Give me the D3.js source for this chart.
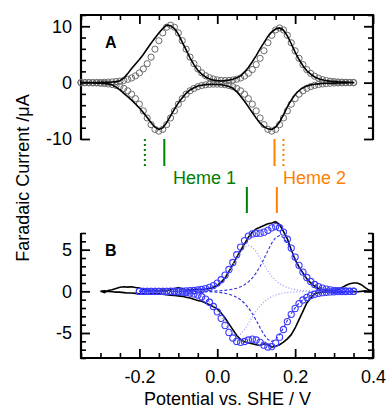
<!DOCTYPE html>
<html><head><meta charset="utf-8">
<script src="https://cdn.jsdelivr.net/npm/d3@7"></script>
<style>
body{margin:0;background:#fff}
svg{display:block}
text{font-family:"Liberation Sans",Arial,Helvetica,sans-serif}
</style></head>
<body><svg id="c" width="386" height="412"></svg>
<script>
// ---------- DATA ----------
const potA = [-0.35,-0.34,-0.33,-0.32,-0.31,-0.30,-0.29,-0.28,-0.27,-0.26,-0.25,-0.24,-0.23,-0.22,-0.21,-0.20,-0.19,-0.18,-0.17,-0.16,-0.15,-0.14,-0.13,-0.12,-0.11,-0.10,-0.09,-0.08,-0.07,-0.06,-0.05,-0.04,-0.03,-0.02,-0.01,0.00,0.01,0.02,0.03,0.04,0.05,0.06,0.07,0.08,0.09,0.10,0.11,0.12,0.13,0.14,0.15,0.16,0.17,0.18,0.19,0.20,0.21,0.22,0.23,0.24,0.25,0.26,0.27,0.28,0.29,0.30,0.31,0.32,0.33,0.34,0.35];
const simA_ox = [0.01,0.01,0.02,0.02,0.03,0.04,0.06,0.09,0.13,0.19,0.27,0.40,0.58,0.83,1.20,1.72,2.43,3.37,4.53,5.94,7.44,8.83,9.83,10.2,9.83,8.83,7.44,5.94,4.53,3.37,2.43,1.74,1.23,0.87,0.64,0.48,0.39,0.37,0.39,0.47,0.61,0.83,1.17,1.66,2.32,3.21,4.32,5.66,7.08,8.40,9.35,9.70,9.35,8.40,7.07,5.65,4.31,3.20,2.31,1.64,1.14,0.79,0.55,0.38,0.26,0.18,0.12,0.08,0.06,0.04,0.03];
const simA_red = [-0.02,-0.02,-0.03,-0.05,-0.07,-0.11,-0.16,-0.23,-0.33,-0.49,-0.70,-1.01,-1.45,-2.05,-2.84,-3.82,-5.01,-6.27,-7.45,-8.29,-8.6,-8.29,-7.45,-6.27,-5.01,-3.82,-2.84,-2.05,-1.45,-1.03,-0.72,-0.52,-0.38,-0.30,-0.27,-0.27,-0.30,-0.38,-0.52,-0.72,-1.03,-1.45,-2.05,-2.84,-3.82,-5.01,-6.27,-7.45,-8.29,-8.6,-8.29,-7.45,-6.27,-5.01,-3.82,-2.84,-2.05,-1.45,-1.01,-0.70,-0.49,-0.33,-0.23,-0.16,-0.11,-0.07,-0.05,-0.03,-0.02,-0.02,-0.01];
const expA_ox = [0.0,0.02,0.0,0.03,0.02,0.04,0.05,0.08,0.1,0.18,0.35,0.8,1.6,2.5,3.3,4.1,5.0,6.0,7.0,7.9,8.8,9.6,10.2,10.1,9.6,8.6,7.2,5.8,4.4,3.2,2.2,1.5,1.0,0.65,0.45,0.35,0.3,0.35,0.45,0.6,0.85,1.2,1.9,2.7,3.7,4.8,6.0,7.1,8.2,9.0,9.5,9.7,9.3,8.3,6.9,5.4,4.1,3.0,2.1,1.5,1.0,0.7,0.5,0.35,0.25,0.2,0.15,0.12,0.1,0.06,0.03];
const expA_red = [-0.03,-0.05,-0.04,-0.06,-0.08,-0.1,-0.15,-0.22,-0.4,-0.8,-1.3,-1.9,-2.5,-3.1,-3.8,-4.5,-5.3,-6.2,-7.1,-7.9,-8.3,-8.0,-7.1,-5.9,-4.7,-3.6,-2.7,-1.9,-1.3,-0.9,-0.6,-0.45,-0.35,-0.3,-0.3,-0.32,-0.38,-0.5,-0.7,-1.0,-1.6,-2.4,-3.3,-4.3,-5.3,-6.3,-7.2,-7.8,-8.2,-8.3,-7.9,-7.0,-5.7,-4.3,-3.1,-2.1,-1.4,-0.9,-0.6,-0.4,-0.3,-0.22,-0.16,-0.12,-0.1,-0.08,-0.06,-0.05,-0.04,-0.03,-0.02];

const potB = [-0.20,-0.19,-0.18,-0.17,-0.16,-0.15,-0.14,-0.13,-0.12,-0.11,-0.10,-0.09,-0.08,-0.07,-0.06,-0.05,-0.04,-0.03,-0.02,-0.01,0.00,0.01,0.02,0.03,0.04,0.05,0.06,0.07,0.08,0.09,0.10,0.11,0.12,0.13,0.14,0.15,0.16,0.17,0.18,0.19,0.20,0.21,0.22,0.23,0.24,0.25,0.26,0.27,0.28,0.29,0.30,0.31,0.32,0.33,0.34,0.35];
const simB_ox = [0,0,0,0,0,0,0,0,0.01,0.01,0.02,0.03,0.05,0.07,0.10,0.16,0.22,0.33,0.48,0.69,0.99,1.39,1.94,2.62,3.46,4.39,5.31,6.09,6.63,6.89,6.97,6.98,7.10,7.32,7.62,7.77,7.63,7.11,6.25,5.19,4.11,3.12,2.31,1.66,1.18,0.82,0.57,0.39,0.27,0.18,0.12,0.08,0.06,0.04,0.03,0.02];
const simB_red = [0,0,0,0,0,-0.01,-0.01,-0.02,-0.03,-0.05,-0.07,-0.10,-0.14,-0.21,-0.31,-0.45,-0.65,-0.93,-1.31,-1.82,-2.46,-3.24,-4.09,-4.93,-5.60,-6.01,-6.12,-6.02,-5.84,-5.74,-5.84,-6.12,-6.46,-6.68,-6.63,-6.21,-5.50,-4.58,-3.63,-2.76,-2.05,-1.48,-1.04,-0.73,-0.50,-0.35,-0.23,-0.16,-0.11,-0.07,-0.05,-0.03,-0.02,-0.02,-0.01,-0.01];
const heme1B_ox = [0,0,0,0,0,0,0,0,0.01,0.01,0.02,0.03,0.05,0.07,0.10,0.15,0.21,0.31,0.45,0.65,0.93,1.31,1.82,2.44,3.20,4.01,4.76,5.30,5.50,5.30,4.76,4.01,3.20,2.44,1.82,1.31,0.93,0.65,0.45,0.31,0.21,0.15,0.10,0.07,0.05,0.03,0.02,0.01,0.01,0,0,0,0,0,0,0];
const heme2B_ox = [0,0,0,0,0,0,0,0,0,0,0,0,0,0,0,0.01,0.01,0.02,0.03,0.04,0.06,0.08,0.12,0.18,0.26,0.38,0.55,0.79,1.13,1.59,2.21,2.97,3.90,4.88,5.80,6.46,6.70,6.46,5.80,4.88,3.90,2.97,2.21,1.59,1.13,0.79,0.55,0.38,0.26,0.18,0.12,0.08,0.06,0.04,0.03,0.02];
const heme1B_red = [0,0,0,0,0,-0.01,-0.01,-0.02,-0.03,-0.05,-0.07,-0.10,-0.14,-0.21,-0.30,-0.43,-0.63,-0.90,-1.26,-1.75,-2.35,-3.08,-3.86,-4.59,-5.11,-5.30,-5.11,-4.59,-3.86,-3.08,-2.35,-1.75,-1.26,-0.90,-0.63,-0.43,-0.30,-0.21,-0.14,-0.10,-0.07,-0.05,-0.03,-0.02,-0.01,-0.01,0,0,0,0,0,0,0,0,0,0];
const heme2B_red = [0,0,0,0,0,0,0,0,0,0,0,0,0,0,-0.01,-0.02,-0.02,-0.03,-0.05,-0.07,-0.11,-0.16,-0.23,-0.34,-0.49,-0.71,-1.01,-1.43,-1.98,-2.66,-3.49,-4.37,-5.20,-5.78,-6.00,-5.78,-5.20,-4.37,-3.49,-2.66,-1.98,-1.43,-1.01,-0.71,-0.49,-0.34,-0.23,-0.16,-0.11,-0.07,-0.05,-0.03,-0.02,-0.02,-0.01,-0.01];

const potBexp = [-0.30,-0.29,-0.28,-0.27,-0.26,-0.25,-0.24,-0.23,-0.22,-0.21,-0.20,-0.19,-0.18,-0.17,-0.16,-0.15,-0.14,-0.13,-0.12,-0.11,-0.10,-0.09,-0.08,-0.07,-0.06,-0.05,-0.04,-0.03,-0.02,-0.01,0.00,0.01,0.02,0.03,0.04,0.05,0.06,0.07,0.08,0.09,0.10,0.11,0.12,0.13,0.14,0.15,0.16,0.17,0.18,0.19,0.20,0.21,0.22,0.23,0.24,0.25,0.26,0.27,0.28,0.29,0.30,0.31,0.32,0.33,0.34,0.35,0.36,0.37,0.38,0.39,0.40];
const expB_ox = [0.05,-0.15,0.1,0.2,0.35,0.5,0.55,0.5,0.55,0.45,0.4,0.25,0.15,0.1,0.12,0.05,0.15,0.1,0.2,0.3,0.45,0.3,0.2,0.15,0.2,0.25,0.2,0.3,0.35,0.5,0.7,1.1,1.6,2.4,3.2,4.1,4.9,5.7,6.5,7.1,7.5,7.7,7.9,8.1,8.2,8.35,8.0,7.2,6.3,5.0,3.8,2.9,2.2,1.5,1.0,0.6,0.35,0.2,0.1,0.05,0.1,0.25,0.45,0.7,0.9,1.0,1.0,0.8,0.45,0.15,0.0];
const expB_red = [0.0,0.05,0.0,-0.05,-0.1,-0.1,-0.15,-0.2,-0.2,-0.25,-0.3,-0.3,-0.35,-0.3,-0.3,-0.3,-0.35,-0.4,-0.45,-0.5,-0.55,-0.6,-0.7,-0.8,-0.95,-1.1,-1.2,-1.4,-1.6,-1.85,-2.1,-2.6,-3.2,-3.9,-4.6,-5.3,-5.8,-6.05,-6.2,-6.3,-6.4,-6.5,-6.3,-6.4,-6.7,-6.6,-6.4,-6.1,-5.7,-5.2,-4.4,-3.4,-2.4,-1.4,-0.8,-0.3,-0.1,-0.05,-0.1,-0.05,-0.1,-0.05,-0.1,-0.05,-0.05,0.0,-0.05,0.0,0.05,0.0,0.0];

const hemeNames = ["Heme 1", "Heme 2"];
const hemeA_solid = [-0.136, 0.147];
const hemeA_dotted = [-0.186, 0.170];
const hemeB_solid = [0.076, 0.153];

const xMajor = [-0.2, 0.0, 0.2, 0.4];
const xMajorLabels = ["-0.2", "0.0", "0.2", "0.4"];
const xMinor = [-0.35,-0.3,-0.25,-0.15,-0.1,-0.05,0.05,0.1,0.15,0.25,0.3,0.35];
const yA_major = [-10, 0, 10];
const yA_majorLabels = ["-10", "0", "10"];
const yA_minor = [-8,-6,-4,-2,2,4,6,8,12];
const yB_major = [-5, 0, 5];
const yB_majorLabels = ["-5", "0", "5"];
const yB_minor = [-8,-7,-6,-4,-3,-2,-1,1,2,3,4,6,7];

// ---------- SCALES ----------
const L = 81, R = 373;
const x = d3.scaleLinear().domain([-0.35, 0.4]).range([L, R]);
const yA = d3.scaleLinear().domain([-10, 12]).range([139, 15]);
const yB = d3.scaleLinear().domain([-8, 7]).range([358, 233]);

const svg = d3.select("#c");
const COLG = "#008000", COLO = "#ff8000";

function styleAxis(g, sw) {
  g.select(".domain").remove();
  g.selectAll(".tick line").attr("stroke", "#000").attr("stroke-width", sw);
  g.selectAll(".tick text").attr("fill", "#000").style("font-size", "18px")
    .style("font-family", '"Liberation Sans",Arial,sans-serif');
}
function yAxes(y, major, labels, minor, top, bottom) {
  const fmt = d => labels[major.indexOf(d)];
  svg.append("g").attr("transform", `translate(${L},0)`)
    .call(d3.axisLeft(y).tickValues(minor).tickSize(-5).tickFormat(""))
    .call(g => styleAxis(g, 1.6));
  svg.append("g").attr("transform", `translate(${L},0)`)
    .call(d3.axisLeft(y).tickValues(major).tickSize(-9).tickPadding(9).tickFormat(fmt))
    .call(g => styleAxis(g, 1.8));
  svg.append("g").attr("transform", `translate(${R},0)`)
    .call(d3.axisRight(y).tickValues(minor).tickSize(-5).tickFormat(""))
    .call(g => styleAxis(g, 1.6));
  svg.append("g").attr("transform", `translate(${R},0)`)
    .call(d3.axisRight(y).tickValues(major).tickSize(-9).tickFormat(""))
    .call(g => styleAxis(g, 1.8));
  svg.append("line").attr("x1", L).attr("x2", L).attr("y1", top).attr("y2", bottom)
    .attr("stroke", "#000").attr("stroke-width", 2.2);
  svg.append("line").attr("x1", R).attr("x2", R).attr("y1", top).attr("y2", bottom)
    .attr("stroke", "#000").attr("stroke-width", 2.2);
}

// ---------- PANEL A ----------
yAxes(yA, yA_major, yA_majorLabels, yA_minor, 14, 140);
svg.append("g").attr("transform", "translate(0,15)")
  .call(d3.axisTop(x).tickValues(xMinor).tickSize(-5).tickFormat(""))
  .call(g => styleAxis(g, 1.6));
svg.append("g").attr("transform", "translate(0,15)")
  .call(d3.axisTop(x).tickValues(xMajor).tickSize(-9).tickFormat(""))
  .call(g => styleAxis(g, 1.8));
svg.append("line").attr("x1", L - 1).attr("x2", R + 1).attr("y1", 15).attr("y2", 15)
  .attr("stroke", "#000").attr("stroke-width", 2.2);

const gA = svg.append("g");
const circA = potA.map((e, i) => [e, simA_ox[i]]).concat(potA.map((e, i) => [e, simA_red[i]]));
gA.selectAll("circle").data(circA).join("circle")
  .attr("cx", d => x(d[0])).attr("cy", d => yA(d[1])).attr("r", 3.1)
  .attr("fill", "none").attr("stroke", "#6a6a6a").attr("stroke-width", 1);
const loopA = potA.map((e, i) => [e, expA_ox[i]])
  .concat(potA.map((e, i) => [e, expA_red[i]]).reverse());
gA.append("path").attr("d", d3.line().x(d => x(d[0])).y(d => yA(d[1]))(loopA))
  .attr("fill", "none").attr("stroke", "#000").attr("stroke-width", 1.6);

svg.append("text").attr("x", 105).attr("y", 47.5).text("A")
  .style("font-size", "16px").style("font-weight", "bold");

// ---------- HEME MARKERS ----------
const hemeCols = [COLG, COLO];
hemeA_solid.forEach((e, i) => svg.append("line").attr("x1", x(e)).attr("x2", x(e))
  .attr("y1", 139).attr("y2", 166).attr("stroke", hemeCols[i]).attr("stroke-width", 2));
hemeA_dotted.forEach((e, i) => svg.append("line").attr("x1", x(e)).attr("x2", x(e))
  .attr("y1", 139).attr("y2", 166).attr("stroke", hemeCols[i]).attr("stroke-width", 2)
  .attr("stroke-dasharray", "2,3"));
hemeB_solid.forEach((e, i) => svg.append("line").attr("x1", x(e)).attr("x2", x(e))
  .attr("y1", 187).attr("y2", 213).attr("stroke", hemeCols[i]).attr("stroke-width", 2));
const hemeLabelX = [173, 283];
hemeNames.forEach((n, i) => svg.append("text").attr("x", hemeLabelX[i]).attr("y", 184)
  .text(n).attr("fill", hemeCols[i]).style("font-size", "18px"));

// ---------- PANEL B ----------
yAxes(yB, yB_major, yB_majorLabels, yB_minor, 233, 359);
svg.append("g").attr("transform", "translate(0,358)")
  .call(d3.axisBottom(x).tickValues(xMinor).tickSize(-5).tickFormat(""))
  .call(g => styleAxis(g, 1.6));
svg.append("g").attr("transform", "translate(0,358)")
  .call(d3.axisBottom(x).tickValues(xMajor).tickSize(-9).tickPadding(12)
    .tickFormat(d => xMajorLabels[xMajor.indexOf(d)]))
  .call(g => styleAxis(g, 1.8));
svg.append("line").attr("x1", L - 1).attr("x2", R + 1).attr("y1", 358).attr("y2", 358)
  .attr("stroke", "#000").attr("stroke-width", 2.2);

const gB = svg.append("g");
const lineB = d3.line().x(d => x(d[0])).y(d => yB(d[1]));
const loopB = potBexp.map((e, i) => [e, expB_ox[i]])
  .concat(potBexp.map((e, i) => [e, expB_red[i]]).reverse());
gB.append("path").attr("d", lineB(loopB)).attr("fill", "none")
  .attr("stroke", "#000").attr("stroke-width", 1.6);
[heme1B_ox, heme1B_red].forEach(s => gB.append("path")
  .attr("d", lineB(potB.map((e, i) => [e, s[i]])))
  .attr("fill", "none").attr("stroke", "#8f8fff").attr("stroke-width", 1.1)
  .attr("stroke-dasharray", "1,2"));
[heme2B_ox, heme2B_red].forEach(s => gB.append("path")
  .attr("d", lineB(potB.map((e, i) => [e, s[i]])))
  .attr("fill", "none").attr("stroke", "#2a2ae0").attr("stroke-width", 1.1)
  .attr("stroke-dasharray", "3,2"));
const circB = potB.map((e, i) => [e, simB_ox[i]]).concat(potB.map((e, i) => [e, simB_red[i]]));
gB.selectAll("circle").data(circB).join("circle")
  .attr("cx", d => x(d[0])).attr("cy", d => yB(d[1])).attr("r", 3.1)
  .attr("fill", "none").attr("stroke", "#3a3aff").attr("stroke-width", 1.1);

svg.append("text").attr("x", 105).attr("y", 255.5).text("B")
  .style("font-size", "16px").style("font-weight", "bold");

// ---------- AXIS TITLES ----------
svg.append("text").attr("x", 227.5).attr("y", 405).attr("text-anchor", "middle")
  .style("font-size", "18px").text("Potential vs. SHE / V");
svg.append("text").attr("transform", "translate(29,178) rotate(-90)")
  .attr("text-anchor", "middle").style("font-size", "18px").text("Faradaic Current /μA");
</script>
</body></html>
